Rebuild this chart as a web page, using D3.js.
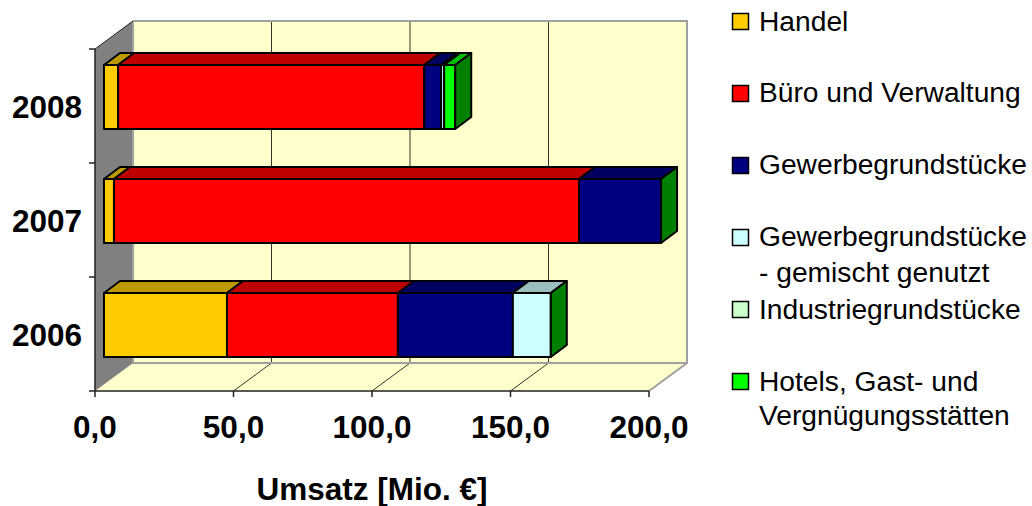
<!DOCTYPE html>
<html><head><meta charset="utf-8">
<script src="https://cdn.jsdelivr.net/npm/d3@7"></script>
<style>html,body{margin:0;background:#fff}svg{display:block}text{font-family:"Liberation Sans",Arial,sans-serif;fill:#000}</style>
</head><body><svg id="c" width="1032" height="506"></svg>
<script>
const years = ["2006","2007","2008"];
const seriesNames = ["Handel","Büro und Verwaltung","Gewerbegrundstücke","Gewerbegrundstücke gemischt","Industriegrundstücke","Hotels"];
const handel = [44.4,3.6,5.1];
const buero = [61.7,167.9,110.5];
const gewerbe = [41.5,29.6,6.1];
const gemischt = [13.7,0,1.1];
const industrie = [0,0,0];
const hotels = [0,0,4.0];
const frontColors = ["#ffcc00","#ff0000","#000080","#ccffff","#ccffcc","#00ff00"];
const topColors = ["#bf9900","#bf0000","#000060","#99bfbf","#99bf99","#00bf00"];
const sideColor = "#008000";
const xTicks = [0,50,100,150,200];
const legendLines = [["Handel"],["Büro und Verwaltung"],["Gewerbegrundstücke"],["Gewerbegrundstücke","- gemischt genutzt"],["Industriegrundstücke"],["Hotels, Gast- und","Vergnügungsstätten"]];

const svg = d3.select("#c");
const x = d3.scaleLinear().domain([0,200]).range([95,649]);
const y = d3.scaleBand().domain(years).range([391,49]);
const wallDx = 38, wallDy = -28, barDx = 16, barDy = -12, barH = 64, barShiftX = 9, barShiftY = -9;
const top_ = y.range()[1], bot = y.range()[0], x0 = x(0), x1 = x(200);
const poly = p => p.map(d=>d.join(",")).join(" ");

// walls
svg.append("polygon").attr("points",poly([[x0+wallDx,top_+wallDy],[x1+wallDx,top_+wallDy],[x1+wallDx,bot+wallDy],[x0+wallDx,bot+wallDy]])).attr("fill","#ffffcc");
svg.append("polygon").attr("points",poly([[x0,bot],[x0+wallDx,bot+wallDy],[x1+wallDx,bot+wallDy],[x1,bot]])).attr("fill","#ffffcc");
svg.append("polygon").attr("points",poly([[x0,top_],[x0+wallDx,top_+wallDy],[x0+wallDx,bot+wallDy],[x0,bot]])).attr("fill","#808080");
// gridlines
svg.selectAll(".g").data(xTicks.slice(1,-1)).join("path").attr("fill","none").attr("stroke","#333").attr("stroke-width",1)
 .attr("d",d=>`M${x(d)},${bot}L${x(d)+wallDx},${bot+wallDy}V${top_+wallDy}`);
// gray borders
svg.append("path").attr("fill","none").attr("stroke","#a0a0a0").attr("stroke-width",2)
 .attr("d",`M${x0+wallDx},${top_+wallDy}H${x1+wallDx}V${bot+wallDy}L${x1},${bot}M${x0+wallDx},${top_+wallDy}V${bot+wallDy}H${x1+wallDx}`);
svg.append("path").attr("fill","none").attr("stroke","#222").attr("stroke-width",1)
 .attr("d",`M${x0},${top_}L${x0+wallDx},${top_+wallDy}`);
// axes
const axG = svg.append("g");
axG.append("path").attr("fill","none").attr("stroke","#222").attr("stroke-width",1.5)
 .attr("d",`M${x0},${top_}V${bot}H${x1}`);
axG.selectAll(".tx").data(xTicks).join("line").attr("x1",d=>x(d)).attr("x2",d=>x(d)).attr("y1",bot).attr("y2",bot+6).attr("stroke","#222").attr("stroke-width",1.5);
const yEdges = [...years.map(c=>y(c)+y.bandwidth()),top_];
axG.selectAll(".ty").data(yEdges).join("line").attr("x1",x0-6).attr("x2",x0).attr("y1",d=>d).attr("y2",d=>d).attr("stroke","#222").attr("stroke-width",1.5);
axG.selectAll(".lx").data(xTicks).join("text").attr("x",d=>x(d)).attr("y",438).attr("text-anchor","middle").attr("font-size",31.5).attr("font-weight","bold").text(d=>d.toFixed(1).replace(".",","));
axG.selectAll(".ly").data(years).join("text").attr("x",82).attr("y",d=>y(d)+y.bandwidth()/2+12).attr("text-anchor","end").attr("font-size",31.5).attr("font-weight","bold").text(d=>d);
svg.append("text").attr("x",372).attr("y",500).attr("text-anchor","middle").attr("font-size",31.5).attr("font-weight","bold").text("Umsatz [Mio. €]");

// bars
const table = years.map((c,i)=>({year:c,0:handel[i],1:buero[i],2:gewerbe[i],3:gemischt[i],4:industrie[i],5:hotels[i]}));
const stacked = d3.stack().keys([0,1,2,3,4,5])(table);
const bx = v => x(v)+barShiftX;
[2,1,0].forEach(ci=>{
  const yt = y(years[ci])+y.bandwidth()/2+barShiftY-barH/2, yb = yt+barH;
  const g = svg.append("g").attr("stroke","#000").attr("stroke-width",2).attr("stroke-linejoin","round");
  const segs = stacked.map((s,k)=>({k,a:s[ci][0],b:s[ci][1]})).filter(d=>d.b>d.a);
  g.selectAll(".t").data(segs).join("polygon").attr("fill",d=>topColors[d.k])
   .attr("points",d=>poly([[bx(d.a),yt],[bx(d.a)+barDx,yt+barDy],[bx(d.b)+barDx,yt+barDy],[bx(d.b),yt]]));
  g.selectAll(".f").data(segs).join("rect").attr("fill",d=>frontColors[d.k])
   .attr("x",d=>bx(d.a)).attr("y",yt).attr("width",d=>bx(d.b)-bx(d.a)).attr("height",barH);
  const end = stacked[5][ci][1];
  g.append("polygon").attr("fill",sideColor)
   .attr("points",poly([[bx(end),yt],[bx(end)+barDx,yt+barDy],[bx(end)+barDx,yb+barDy],[bx(end),yb]]));
});

// legend
const swY = [13,85,157,229,301,373];
const base = [[31],[102],[174],[246,282],[319],[391,425]];
const lg = svg.append("g");
lg.selectAll("rect").data(frontColors).join("rect").attr("x",732.5).attr("y",(d,i)=>swY[i]+.5).attr("width",16).attr("height",16).attr("fill",d=>d).attr("stroke","#000").attr("stroke-width",1.5);
legendLines.forEach((ls,i)=>ls.forEach((t,j)=>{
  lg.append("text").attr("x",759).attr("y",base[i][j]).attr("font-size",28.2).text(t);
}));
</script></body></html>
